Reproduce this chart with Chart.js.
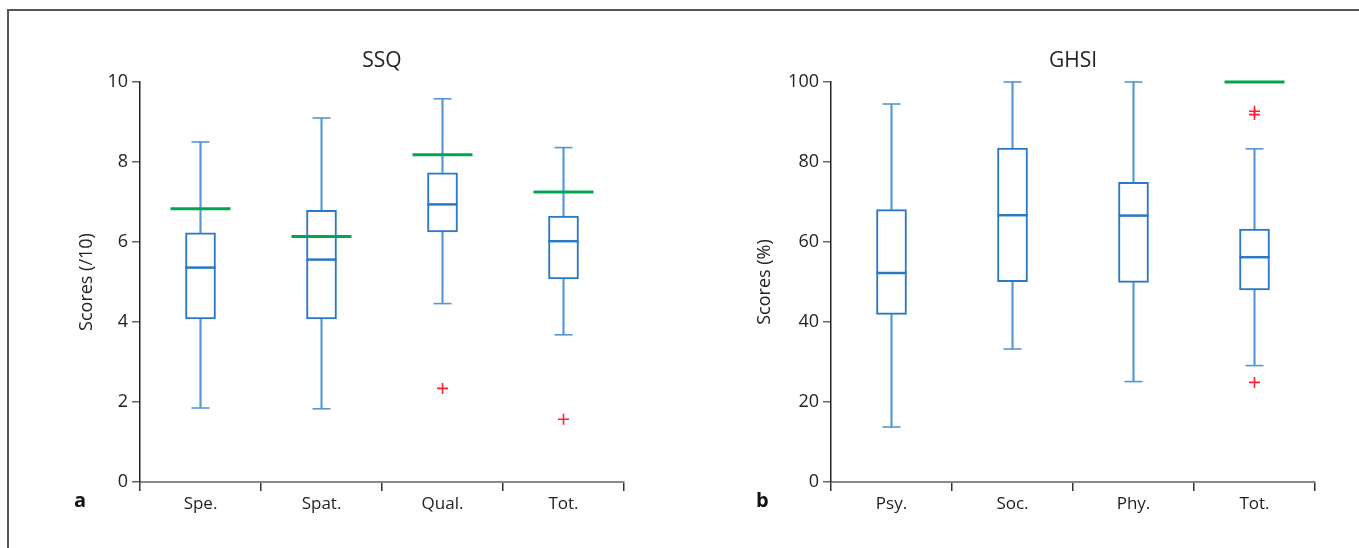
<!DOCTYPE html>
<html>
<head>
<meta charset="utf-8">
<script src="https://cdn.jsdelivr.net/npm/chart.js@4.4.1/dist/chart.umd.min.js"></script>
<style>
  html, body { margin: 0; padding: 0; background: #fff; }
  body { width: 1359px; height: 548px; position: relative; overflow: hidden; font-family: "Open Sans", sans-serif; }
  .frame { position: absolute; left: 7px; top: 9px; width: 1400px; height: 600px; border-top: 2px solid #555; border-left: 2px solid #555; }
  .panel { position: absolute; top: 0; height: 548px; }
  #panelA { left: 0; width: 680px; }
  #panelB { left: 680px; width: 679px; }
  .tag { position: absolute; font-weight: bold; font-size: 20px; color: #111; line-height: 1; }
</style>
</head>
<body>
<div class="frame"></div>
<div class="panel" id="panelA"><canvas id="chartA" width="680" height="548"></canvas></div>
<div class="panel" id="panelB"><canvas id="chartB" width="679" height="548"></canvas></div>
<div class="tag" style="left:74px; top:490px;">a</div>
<div class="tag" style="left:756px; top:490px;">b</div>
<script>
// SSQ panel (a)
const ssqLabels = ["Spe.", "Spat.", "Qual.", "Tot."];
const ssqMin = [1.85, 1.83, 4.46, 3.68];
const ssqQ1 = [4.08, 4.08, 6.25, 5.08];
const ssqMedian = [5.36, 5.56, 6.94, 6.02];
const ssqQ3 = [6.23, 6.79, 7.73, 6.65];
const ssqMax = [8.5, 9.1, 9.58, 8.36];
const ssqNorm = [6.83, 6.14, 8.18, 7.25];
const ssqOutliers = [{ x: "Qual.", y: 2.34 }, { x: "Tot.", y: 1.57 }];
const ssqTicks = [0, 2, 4, 6, 8, 10];

// GHSI panel (b)
const ghsiLabels = ["Psy.", "Soc.", "Phy.", "Tot."];
const ghsiMin = [13.75, 33.25, 25.1, 29.1];
const ghsiQ1 = [41.9, 50.1, 49.9, 48.0];
const ghsiMedian = [52.25, 66.7, 66.6, 56.2];
const ghsiQ3 = [68.1, 83.5, 74.9, 63.2];
const ghsiMax = [94.5, 100, 100, 83.3];
const ghsiNorm = [null, null, null, 100];
const ghsiOutliers = [{ x: "Tot.", y: 92.7 }, { x: "Tot.", y: 91.85 }, { x: "Tot.", y: 24.9 }];
const ghsiTicks = [0, 20, 40, 60, 80, 100];

const boxBlue = "#2a78c6";
const whiskerBlue = "#5597d6";
const normGreen = "#00a651";
const outlierRed = "#ff1f2d";
const textColor = "#222";
const fontFamily = "'Open Sans', sans-serif";

function pointLine(label, data, color, radius, width) {
  return {
    type: "line", label, data, showLine: false, clip: false,
    pointStyle: "line", pointRadius: radius, pointBorderWidth: width,
    pointBorderColor: color, pointBackgroundColor: color, borderColor: color,
  };
}

function makePanel(id, p) {
  const ctx = document.getElementById(id);
  return new Chart(ctx, {
    type: "bar",
    data: {
      labels: p.labels,
      datasets: [
        pointLine("Norm", p.norm, normGreen, 30, 3),
        {
          type: "line", label: "Outliers", data: p.outliers, showLine: false, clip: false,
          pointStyle: "cross", pointRadius: 5.5, pointBorderWidth: 1.6,
          pointBorderColor: outlierRed, borderColor: outlierRed,
        },
        pointLine("Median", p.median, boxBlue, 15, 2.5),
        pointLine("Max", p.max, whiskerBlue, 9, 1.6),
        pointLine("Min", p.min, whiskerBlue, 9, 1.6),
        {
          label: "IQR", grouped: false, barThickness: 30, clip: false,
          data: p.q1.map((v, i) => [v, p.q3[i]]),
          backgroundColor: "#fff", borderColor: boxBlue, borderWidth: 2, borderSkipped: false,
        },
        {
          label: "Upper whisker", grouped: false, barThickness: 1.5, clip: false,
          data: p.q3.map((v, i) => [v, p.max[i]]),
          backgroundColor: whiskerBlue, borderWidth: 0,
        },
        {
          label: "Lower whisker", grouped: false, barThickness: 1.5, clip: false,
          data: p.min.map((v, i) => [v, p.q1[i]]),
          backgroundColor: whiskerBlue, borderWidth: 0,
        },
      ],
    },
    options: {
      responsive: false,
      animation: false,
      events: [],
      layout: { padding: { left: p.padLeft, right: p.padRight, top: 0, bottom: 0 } },
      plugins: {
        legend: { display: false },
        tooltip: { enabled: false },
      },
      scales: {
        x: {
          offset: true,
          grid: { display: true, offset: true, drawOnChartArea: false, tickLength: 9, color: "#333", lineWidth: 1.5 },
          border: { display: true, color: "#888", width: 2 },
          ticks: { color: textColor, padding: 3, font: { family: fontFamily, size: 17 } },
          afterFit: (axis) => { axis.height = 66; },
        },
        // top axis only carries the panel title, centred over the plot area
        top: {
          type: "category", position: "top", labels: p.labels, offset: true,
          grid: { display: false }, border: { display: false }, ticks: { display: false },
          title: {
            display: true, text: p.title, color: textColor,
            font: { family: fontFamily, size: 21, lineHeight: 1.2 },
            padding: { top: 48, bottom: 4 },
          },
          afterFit: (axis) => { axis.height = 82; },
        },
        y: {
          min: 0, max: p.yMax,
          afterBuildTicks: (axis) => { axis.ticks = p.ticks.map((v) => ({ value: v })); },
          grid: { display: true, drawOnChartArea: false, tickLength: 8, color: "#666", lineWidth: 1.5 },
          border: { display: true, color: "#222", width: 1.5 },
          ticks: { color: textColor, padding: 4, font: { family: fontFamily, size: 18 } },
          title: {
            display: true, text: p.yTitle, color: textColor,
            font: { family: fontFamily, size: 18, lineHeight: 1.2 },
            padding: { top: 3, bottom: 4 },
          },
          afterFit: (axis) => { axis.width = p.axisWidth; },
        },
      },
    },
  });
}

makePanel("chartA", {
  labels: ssqLabels, min: ssqMin, q1: ssqQ1, median: ssqMedian, q3: ssqQ3, max: ssqMax,
  norm: ssqNorm, outliers: ssqOutliers, ticks: ssqTicks, yMax: 10,
  title: "SSQ", yTitle: "Scores (/10)", padLeft: 73, axisWidth: 67, padRight: 56,
});

makePanel("chartB", {
  labels: ghsiLabels, min: ghsiMin, q1: ghsiQ1, median: ghsiMedian, q3: ghsiQ3, max: ghsiMax,
  norm: ghsiNorm, outliers: ghsiOutliers, ticks: ghsiTicks, yMax: 100,
  title: "GHSI", yTitle: "Scores (%)", padLeft: 71, axisWidth: 80, padRight: 44,
});
</script>
</body>
</html>
